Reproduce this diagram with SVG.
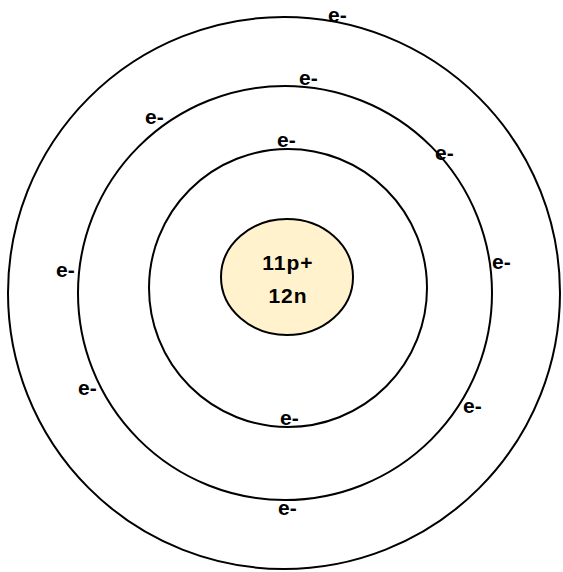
<svg xmlns="http://www.w3.org/2000/svg" width="563" height="572" viewBox="0 0 563 572">
<style>
.orbit{fill:none;stroke:#000;stroke-width:2}
.e{font-family:"Liberation Sans",Arial,sans-serif;font-size:21px;font-weight:bold;fill:#000}
.n{font-family:"Liberation Sans",Arial,sans-serif;font-size:21px;font-weight:bold;fill:#000;text-anchor:middle;letter-spacing:1px}
</style>
<rect width="563" height="572" fill="#fff"/>
<g id="shells">
<circle id="shell3" class="orbit" cx="284" cy="293" r="276"/>
<circle id="shell2" class="orbit" cx="285" cy="293" r="207"/>
<circle id="shell1" class="orbit" cx="288" cy="288" r="139"/>
</g>
<g id="nucleus">
<ellipse cx="287" cy="277" rx="66" ry="58" fill="#FFF2CC" stroke="#000" stroke-width="2"/>
<text class="n" x="288" y="270">11p+</text>
<text class="n" x="288" y="303">12n</text>
</g>
<g id="electrons">
<text class="e" x="328" y="22">e-</text>
<text class="e" x="299" y="85">e-</text>
<text class="e" x="145" y="124">e-</text>
<text class="e" x="277" y="147">e-</text>
<text class="e" x="435" y="160">e-</text>
<text class="e" x="56" y="277">e-</text>
<text class="e" x="492" y="269">e-</text>
<text class="e" x="78" y="395">e-</text>
<text class="e" x="463" y="413">e-</text>
<text class="e" x="280" y="425">e-</text>
<text class="e" x="278" y="515">e-</text>
</g>
</svg>
